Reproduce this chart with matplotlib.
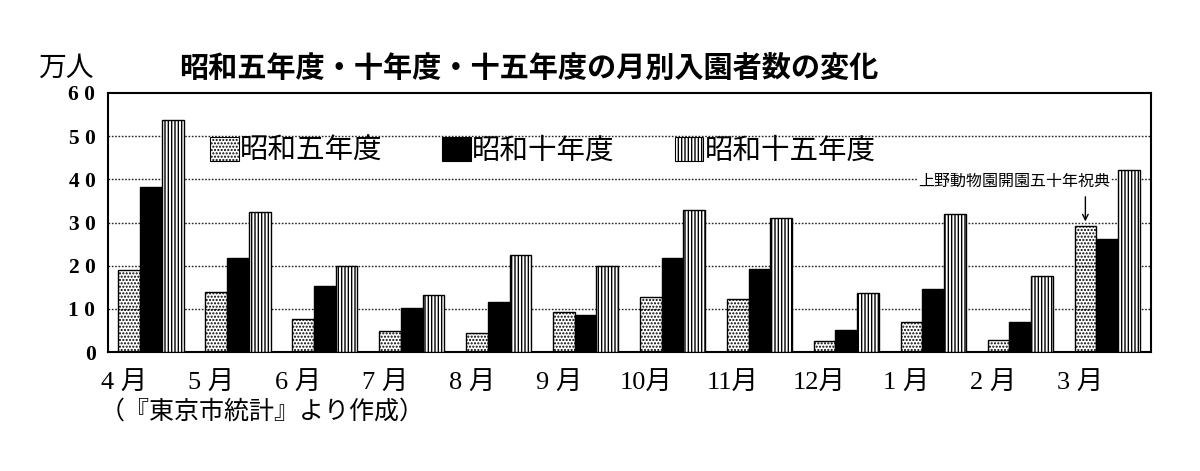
import matplotlib
matplotlib.use("Agg")
import matplotlib.pyplot as plt
from matplotlib.patches import Patch
import numpy as np

plt.rcParams['font.family'] = ['Noto Sans CJK JP', 'DejaVu Sans']
plt.rcParams['hatch.linewidth'] = 1.0

months = ["4 月", "5 月", "6 月", "7 月", "8 月", "9 月",
          "10月", "11月", "12月", "1 月", "2 月", "3 月"]
series_names = ["昭和五年度", "昭和十年度", "昭和十五年度"]
showa5 = [19.0, 14.0, 7.6, 4.9, 4.5, 9.2, 12.7, 12.3, 2.5, 6.9, 2.7, 29.3]
showa10 = [38.3, 21.7, 15.4, 10.1, 11.5, 8.6, 21.7, 19.2, 5.0, 14.5, 6.9, 26.2]
showa15 = [53.7, 32.4, 19.9, 13.2, 22.5, 20.0, 32.9, 31.1, 13.6, 32.0, 17.6, 42.2]
yticks = [0, 10, 20, 30, 40, 50, 60]
ytick_labels = ["0", "1 0", "2 0", "3 0", "4 0", "5 0", "6 0"]
title = "昭和五年度・十年度・十五年度の月別入園者数の変化"
unit = "万人"
source = "（『東京市統計』より作成）"
note = "上野動物園開園五十年祝典"
note_month = 11  # 3月

fig = plt.figure(figsize=(12, 4.71), dpi=100)
ax = fig.add_axes([108/1200, 1-352/471, (1151-108)/1200, (352-93)/471])

x = np.arange(len(months))
w = 0.25
off = 0.12
styles = [
    dict(facecolor='none', edgecolor='black', hatch='.....'),
    dict(facecolor='black', edgecolor='black'),
    dict(facecolor='white', edgecolor='black', hatch='|||||'),
]
for k, vals in enumerate([showa5, showa10, showa15]):
    ax.bar(x + off + k*w, vals, width=w, align='edge', linewidth=1.0,
           zorder=3, **styles[k])

ax.set_xlim(0, 12)
ax.set_ylim(0, 60)
ax.set_yticks(yticks)
ax.set_yticklabels(ytick_labels, family=['Liberation Serif'], fontweight='bold', fontsize=15.5)
ax.set_xticks(x + 0.185)
ax.set_xticklabels(months, family=['Liberation Serif', 'Noto Sans CJK JP'], fontsize=19)
ax.tick_params(axis='y', length=0, pad=9)
ax.tick_params(axis='x', length=0, pad=14)
for yv in yticks[1:-1]:
    ax.axhline(yv, color='#222222', linewidth=1.0, linestyle=(0, (1.2, 1.2)), zorder=1)
for s in ax.spines.values():
    s.set_linewidth(1.5)

handles = [Patch(label=series_names[k], linewidth=0.8, **styles[k]) for k in range(3)]
ax.legend(handles=handles, loc='center left', bbox_to_anchor=(0.098, 0.776),
          ncol=3, frameon=False, fontsize=20.5, handlelength=1.0, handleheight=0.9,
          handletextpad=0.05, columnspacing=2.1, borderpad=0, borderaxespad=0)

bx = note_month + off + w/2
ax.text(10.43, 39.5, note, ha='center', va='center', fontsize=11.5, zorder=4,
        bbox=dict(facecolor='white', edgecolor='none', pad=0.5))
ax.annotate("", xy=(bx, showa5[note_month] + 0.3), xytext=(bx, 36.6),
            arrowprops=dict(arrowstyle='->', color='black', lw=1.0), zorder=4)

fig.text(38/1200, 1-68/471, unit, ha='left', va='center', fontsize=20)
fig.text(179/1200, 1-68/471, title, ha='left', va='center', fontsize=21, fontweight='bold')
fig.text(100/1200, 1-412/471, source, ha='left', va='center', fontsize=18)

fig.savefig("out.png", dpi=100)
